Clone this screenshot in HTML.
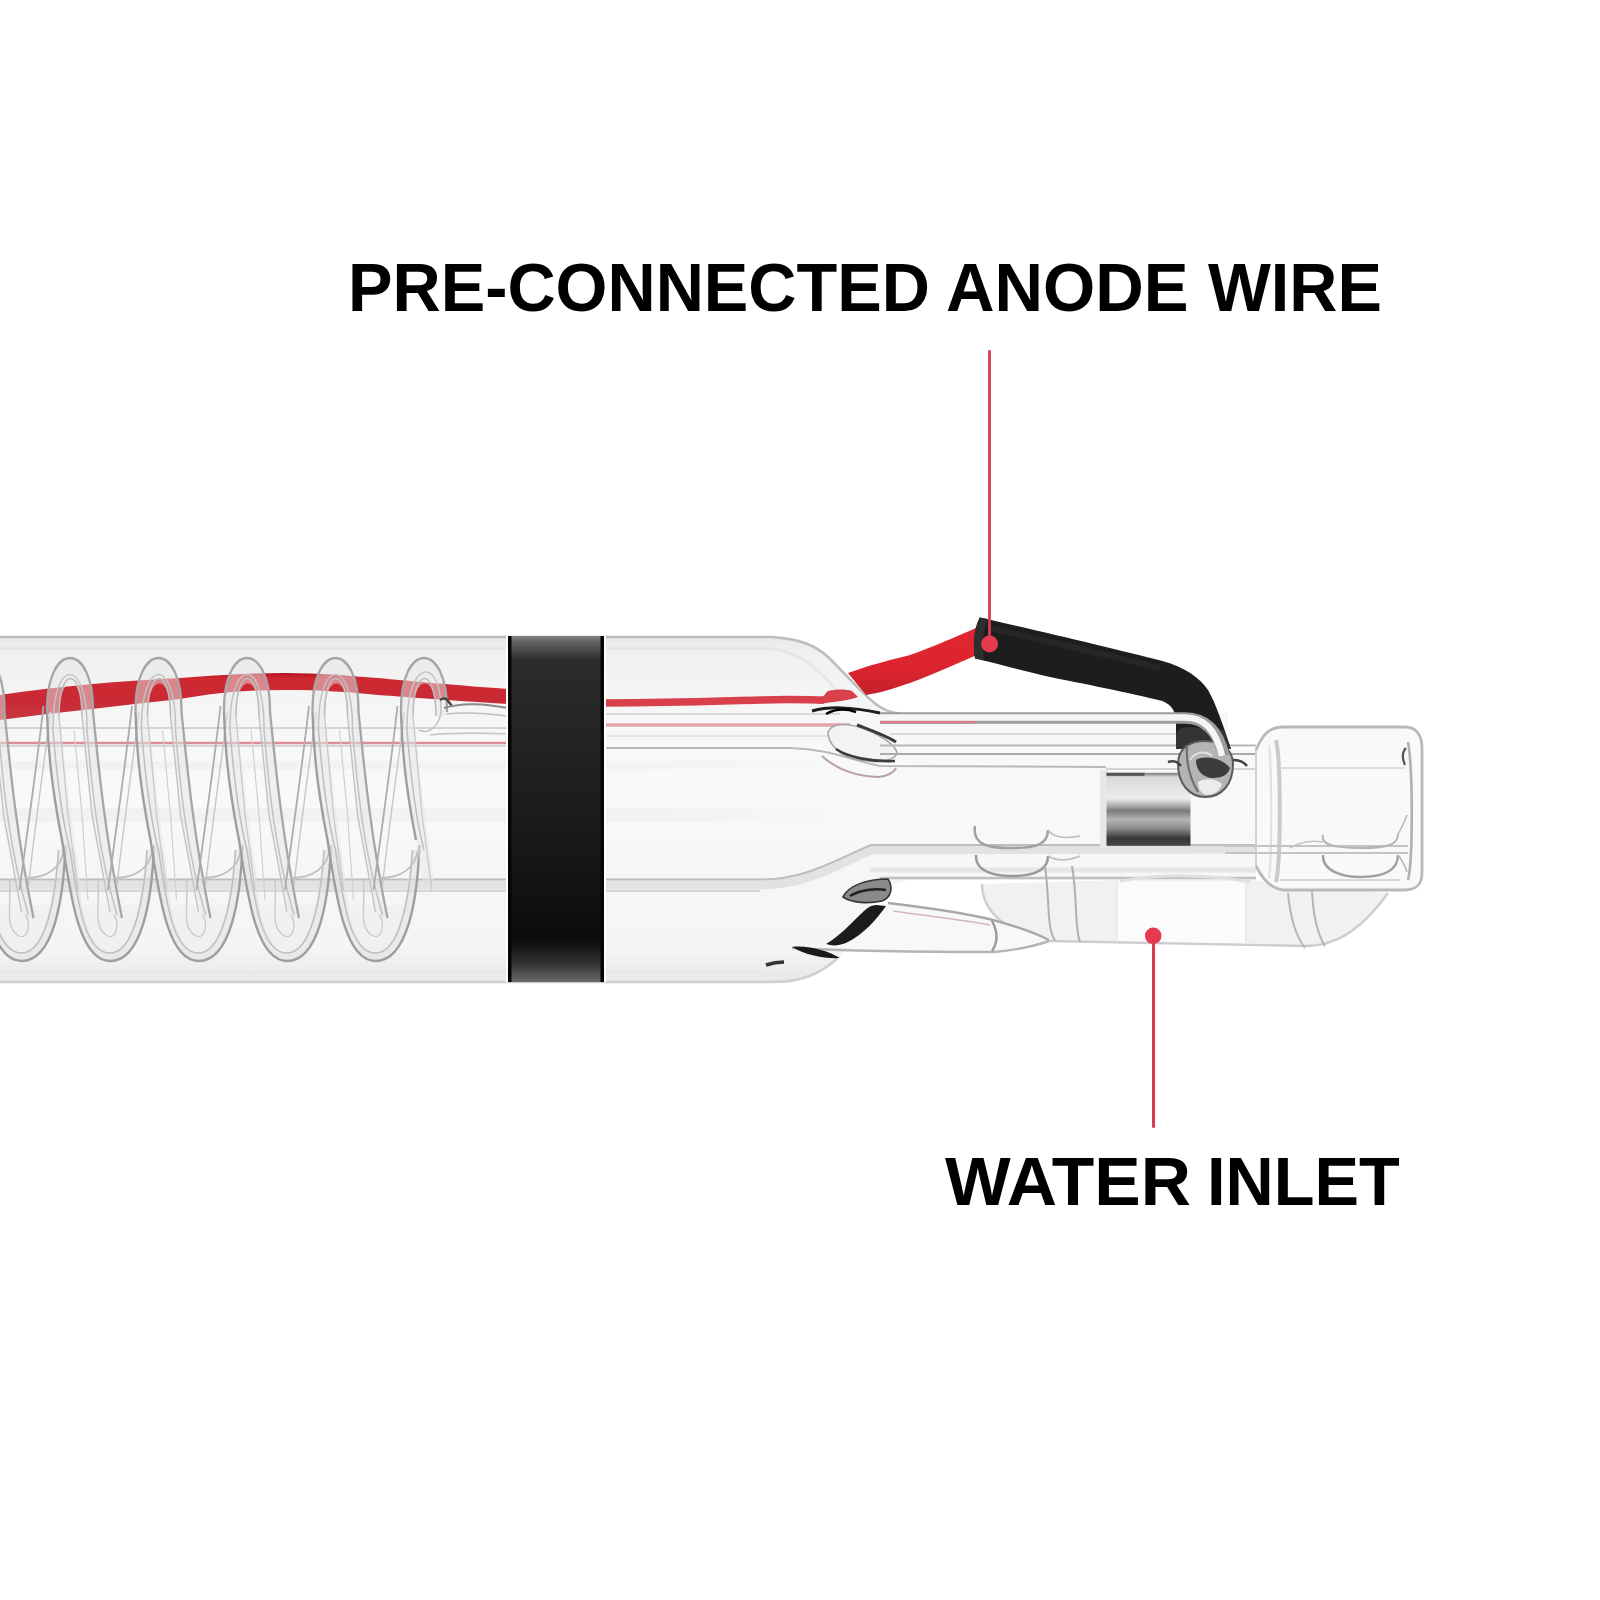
<!DOCTYPE html>
<html><head><meta charset="utf-8">
<style>
html,body{margin:0;padding:0;background:#fff;}
body{width:1600px;height:1600px;position:relative;overflow:hidden;}
.w{position:absolute;font-family:"Liberation Sans",sans-serif;font-weight:bold;color:#000;white-space:nowrap;line-height:1;font-size:69px;transform-origin:0 0;}
svg{position:absolute;left:0;top:0;}
</style></head><body>
<svg width="1600" height="1600" viewBox="0 0 1600 1600">
<defs>
<linearGradient id="band" x1="0" y1="0" x2="0" y2="1">
<stop offset="0" stop-color="#808080"/><stop offset="0.02" stop-color="#606060"/><stop offset="0.07" stop-color="#2c2c2c"/>
<stop offset="0.5" stop-color="#1c1c1c"/><stop offset="0.88" stop-color="#0c0c0c"/>
<stop offset="0.95" stop-color="#353535"/><stop offset="1" stop-color="#6a6a6a"/>
</linearGradient>
<linearGradient id="metal" x1="0" y1="0" x2="0" y2="1">
<stop offset="0" stop-color="#7a7a7a"/><stop offset="0.06" stop-color="#d8d8d8"/>
<stop offset="0.35" stop-color="#ededed"/><stop offset="0.46" stop-color="#a8a8a8"/>
<stop offset="0.52" stop-color="#7a7a7a"/><stop offset="0.64" stop-color="#b4b4b4"/>
<stop offset="0.76" stop-color="#8c8c8c"/><stop offset="0.9" stop-color="#363636"/>
<stop offset="1" stop-color="#484848"/>
</linearGradient>
<linearGradient id="tubefill" x1="0" y1="0" x2="0" y2="1">
<stop offset="0" stop-color="#e8e8e8"/><stop offset="0.04" stop-color="#f0f0f0"/>
<stop offset="0.14" stop-color="#f4f4f4"/><stop offset="0.32" stop-color="#f8f8f8"/>
<stop offset="0.5" stop-color="#f9f9f9"/><stop offset="0.7" stop-color="#f6f6f6"/>
<stop offset="0.9" stop-color="#f5f5f5"/><stop offset="1" stop-color="#e8e8e8"/>
</linearGradient>
<linearGradient id="sleeve" x1="0" y1="0" x2="0" y2="1">
<stop offset="0" stop-color="#111"/><stop offset="0.5" stop-color="#222"/><stop offset="1" stop-color="#151515"/>
</linearGradient>
<linearGradient id="redc" x1="0" y1="0" x2="0" y2="1"><stop offset="0" stop-color="#b3141e"/><stop offset="0.12" stop-color="#d02832"/><stop offset="0.6" stop-color="#c92a34"/><stop offset="1" stop-color="#c8383f"/></linearGradient>
<linearGradient id="redw" x1="0" y1="0" x2="0" y2="1">
<stop offset="0" stop-color="#e2262e"/><stop offset="0.6" stop-color="#dc2430"/><stop offset="1" stop-color="#c4202a"/>
</linearGradient>
</defs>

<!-- main tube body -->
<path d="M0,637 L772,637 C800,639 815,645 828,657 C845,673 860,692 877,705 C884,710 890,713 900,713.5 L1228,713 L1228,750 L1256,750 L1256,880 L910,880 C880,885 868,910 855,935 C840,962 815,982 772,982 L0,982 Z" fill="url(#tubefill)"/>
<path d="M0,637 L772,637 C800,639 815,645 828,657 C845,673 860,692 877,705 C884,710 890,713 900,713.5" fill="none" stroke="#bdbdbd" stroke-width="2.6"/>
<path d="M0,648 L765,648 C800,650 820,670 840,695" fill="none" stroke="#e6e6e6" stroke-width="3"/>
<path d="M0,982 L772,982 C805,982 822,972 838,958" fill="none" stroke="#cfcfcf" stroke-width="2.5"/>
<path d="M0,972 L765,972" stroke="#e8e8e8" stroke-width="3"/>
<!-- inner discharge tube lines -->
<path d="M0,728 L508,728" stroke="#d4d4d4" stroke-width="2"/>
<path d="M0,746 L508,746" stroke="#d6d6d6" stroke-width="2"/>
<path d="M604,714 L840,714" stroke="#cfcfcf" stroke-width="1.6"/>
<path d="M604,736 L840,736" stroke="#eadadc" stroke-width="1.5"/>
<path d="M604,748 L790,748 C830,749 850,760 880,766 L1106,767" fill="none" stroke="#b9b9b9" stroke-width="2"/>
<linearGradient id="fadeR" x1="0" y1="0" x2="1" y2="0"><stop offset="0" stop-color="#f1f1f1"/><stop offset="0.8" stop-color="#f3f3f3"/><stop offset="1" stop-color="#f3f3f3" stop-opacity="0"/></linearGradient>
<rect x="0" y="761" width="840" height="8" fill="url(#fadeR)"/>
<rect x="0" y="808" width="860" height="14" fill="url(#fadeR)"/>
<path d="M0,885 L760,885 C805,885 835,866 871,850 L1256,849" fill="none" stroke="#e2e2e2" stroke-width="9"/>
<path d="M0,879.5 L760,879.5 C805,880 835,860 871,845 L1256,845" fill="none" stroke="#bdbdbd" stroke-width="2"/>
<path d="M0,891 L760,891" stroke="#cbcbcb" stroke-width="1.6"/>

<!-- red wire over coil -->
<path d="M0,695 C60,686 120,681 180,678 C220,675 250,673 285,673 C320,673 350,676 378,678 C410,681 440,684 508,689 L508,704 C440,700 410,697 378,695 C350,692 320,690 285,690 C250,690 220,692 180,699 C120,706 60,712 0,720 Z" fill="url(#redc)"/>
<path d="M0,743 L508,743" stroke="#dc8c96" stroke-width="2.6"/>
<path d="M604,703 C680,703 720,701 760,700 C790,699 810,700 824,700" fill="none" stroke="#d8404c" stroke-width="7.5"/>
<path d="M604,725 L850,725" stroke="#e4a4ac" stroke-width="3.5"/>
<path d="M-41.5,712 C-42.5,642 5.5,642 4.5,712 L14.5,815 L27.5,881 L33.5,918 L25.5,918 L15.5,881 L2.5,815 L-6.5,712 C-6.5,674 -28.5,674 -29.5,712 L-17.5,815 L-8.5,881 L-19.5,881 L-31.5,815 Z" fill="#e6e6e6" opacity="0.5"/>
<path d="M-23.5,845 C-16.5,900 -6.5,961 21.5,961 C51.5,961 63.5,905 65.5,850 L57.5,850 C53.5,900 43.5,953 21.5,953 C1.5,953 -8.5,905 -13.5,850 Z" fill="#e0e0e0" opacity="0.55"/>
<path d="M-4.5,905 C1.5,940 9.5,953 21.5,953 C36.5,953 45.5,935 49.5,905 Z" fill="#ececec" opacity="0.45"/>
<path d="M-41.5,712 C-40.5,760 -34.5,800 -26.5,840 C-18.5,890 -10.5,961 21.5,961 C53.5,961 63.5,900 65.5,845" fill="none" stroke="#9e9e9e" stroke-width="2.4"/>
<path d="M-41.5,712 C-42.5,640 5.5,640 4.5,712 C9.5,760 15.5,830 33.5,918" fill="none" stroke="#a6a6a6" stroke-width="2.3"/>
<path d="M-35.5,730 C-36.5,656 -0.5,656 -1.5,730 C3.5,790 9.5,850 28.5,915" fill="none" stroke="#c2c2c2" stroke-width="1.5"/>
<path d="M-35.5,730 C-31.5,780 -26.5,820 -18.5,850 C-10.5,905 -3.5,953 21.5,953 C45.5,953 55.5,900 58.5,850" fill="none" stroke="#bebebe" stroke-width="1.5"/>
<path d="M-29.5,716 C-29.5,666 -6.5,666 -6.5,716" fill="none" stroke="#bcbcbc" stroke-width="1.6"/>
<path d="M-29.5,716 L-20.5,815 L-10.5,890" fill="none" stroke="#c8c8c8" stroke-width="1.3"/>
<path d="M-6.5,716 L3.5,815 L21.5,912" fill="none" stroke="#c0c0c0" stroke-width="1.3"/>
<path d="M-14.5,730 L-6.5,815 L-0.5,900" fill="none" stroke="#d0d0d0" stroke-width="1.2"/>
<path d="M19.5,890 C27.5,830 37.5,760 43.5,706" fill="none" stroke="#acacac" stroke-width="1.8"/>
<path d="M28.5,885 C34.5,830 44.5,760 50.5,712" fill="none" stroke="#c6c6c6" stroke-width="1.4"/>
<path d="M9.5,880 C11.5,910 4.5,925 17.5,935 C27.5,942 31.5,925 25.5,915" fill="none" stroke="#cacaca" stroke-width="1.4"/>
<path d="M25.5,878 C47.5,878 61.5,868 64.5,848" fill="none" stroke="#c0c0c0" stroke-width="1.8"/><path d="M47.0,712 C46.0,642 94.0,642 93.0,712 L103.0,815 L116.0,881 L122.0,918 L114.0,918 L104.0,881 L91.0,815 L82.0,712 C82.0,674 60.0,674 59.0,712 L71.0,815 L80.0,881 L69.0,881 L57.0,815 Z" fill="#e6e6e6" opacity="0.5"/>
<path d="M65.0,845 C72.0,900 82.0,961 110.0,961 C140.0,961 152.0,905 154.0,850 L146.0,850 C142.0,900 132.0,953 110.0,953 C90.0,953 80.0,905 75.0,850 Z" fill="#e0e0e0" opacity="0.55"/>
<path d="M84.0,905 C90.0,940 98.0,953 110.0,953 C125.0,953 134.0,935 138.0,905 Z" fill="#ececec" opacity="0.45"/>
<path d="M47.0,712 C48.0,760 54.0,800 62.0,840 C70.0,890 78.0,961 110.0,961 C142.0,961 152.0,900 154.0,845" fill="none" stroke="#9e9e9e" stroke-width="2.4"/>
<path d="M47.0,712 C46.0,640 94.0,640 93.0,712 C98.0,760 104.0,830 122.0,918" fill="none" stroke="#a6a6a6" stroke-width="2.3"/>
<path d="M53.0,730 C52.0,656 88.0,656 87.0,730 C92.0,790 98.0,850 117.0,915" fill="none" stroke="#c2c2c2" stroke-width="1.5"/>
<path d="M53.0,730 C57.0,780 62.0,820 70.0,850 C78.0,905 85.0,953 110.0,953 C134.0,953 144.0,900 147.0,850" fill="none" stroke="#bebebe" stroke-width="1.5"/>
<path d="M59.0,716 C59.0,666 82.0,666 82.0,716" fill="none" stroke="#bcbcbc" stroke-width="1.6"/>
<path d="M59.0,716 L68.0,815 L78.0,890" fill="none" stroke="#c8c8c8" stroke-width="1.3"/>
<path d="M82.0,716 L92.0,815 L110.0,912" fill="none" stroke="#c0c0c0" stroke-width="1.3"/>
<path d="M74.0,730 L82.0,815 L88.0,900" fill="none" stroke="#d0d0d0" stroke-width="1.2"/>
<path d="M108.0,890 C116.0,830 126.0,760 132.0,706" fill="none" stroke="#acacac" stroke-width="1.8"/>
<path d="M117.0,885 C123.0,830 133.0,760 139.0,712" fill="none" stroke="#c6c6c6" stroke-width="1.4"/>
<path d="M98.0,880 C100.0,910 93.0,925 106.0,935 C116.0,942 120.0,925 114.0,915" fill="none" stroke="#cacaca" stroke-width="1.4"/>
<path d="M114.0,878 C136.0,878 150.0,868 153.0,848" fill="none" stroke="#c0c0c0" stroke-width="1.8"/><path d="M135.5,712 C134.5,642 182.5,642 181.5,712 L191.5,815 L204.5,881 L210.5,918 L202.5,918 L192.5,881 L179.5,815 L170.5,712 C170.5,674 148.5,674 147.5,712 L159.5,815 L168.5,881 L157.5,881 L145.5,815 Z" fill="#e6e6e6" opacity="0.5"/>
<path d="M153.5,845 C160.5,900 170.5,961 198.5,961 C228.5,961 240.5,905 242.5,850 L234.5,850 C230.5,900 220.5,953 198.5,953 C178.5,953 168.5,905 163.5,850 Z" fill="#e0e0e0" opacity="0.55"/>
<path d="M172.5,905 C178.5,940 186.5,953 198.5,953 C213.5,953 222.5,935 226.5,905 Z" fill="#ececec" opacity="0.45"/>
<path d="M135.5,712 C136.5,760 142.5,800 150.5,840 C158.5,890 166.5,961 198.5,961 C230.5,961 240.5,900 242.5,845" fill="none" stroke="#9e9e9e" stroke-width="2.4"/>
<path d="M135.5,712 C134.5,640 182.5,640 181.5,712 C186.5,760 192.5,830 210.5,918" fill="none" stroke="#a6a6a6" stroke-width="2.3"/>
<path d="M141.5,730 C140.5,656 176.5,656 175.5,730 C180.5,790 186.5,850 205.5,915" fill="none" stroke="#c2c2c2" stroke-width="1.5"/>
<path d="M141.5,730 C145.5,780 150.5,820 158.5,850 C166.5,905 173.5,953 198.5,953 C222.5,953 232.5,900 235.5,850" fill="none" stroke="#bebebe" stroke-width="1.5"/>
<path d="M147.5,716 C147.5,666 170.5,666 170.5,716" fill="none" stroke="#bcbcbc" stroke-width="1.6"/>
<path d="M147.5,716 L156.5,815 L166.5,890" fill="none" stroke="#c8c8c8" stroke-width="1.3"/>
<path d="M170.5,716 L180.5,815 L198.5,912" fill="none" stroke="#c0c0c0" stroke-width="1.3"/>
<path d="M162.5,730 L170.5,815 L176.5,900" fill="none" stroke="#d0d0d0" stroke-width="1.2"/>
<path d="M196.5,890 C204.5,830 214.5,760 220.5,706" fill="none" stroke="#acacac" stroke-width="1.8"/>
<path d="M205.5,885 C211.5,830 221.5,760 227.5,712" fill="none" stroke="#c6c6c6" stroke-width="1.4"/>
<path d="M186.5,880 C188.5,910 181.5,925 194.5,935 C204.5,942 208.5,925 202.5,915" fill="none" stroke="#cacaca" stroke-width="1.4"/>
<path d="M202.5,878 C224.5,878 238.5,868 241.5,848" fill="none" stroke="#c0c0c0" stroke-width="1.8"/><path d="M224.0,712 C223.0,642 271.0,642 270.0,712 L280.0,815 L293.0,881 L299.0,918 L291.0,918 L281.0,881 L268.0,815 L259.0,712 C259.0,674 237.0,674 236.0,712 L248.0,815 L257.0,881 L246.0,881 L234.0,815 Z" fill="#e6e6e6" opacity="0.5"/>
<path d="M242.0,845 C249.0,900 259.0,961 287.0,961 C317.0,961 329.0,905 331.0,850 L323.0,850 C319.0,900 309.0,953 287.0,953 C267.0,953 257.0,905 252.0,850 Z" fill="#e0e0e0" opacity="0.55"/>
<path d="M261.0,905 C267.0,940 275.0,953 287.0,953 C302.0,953 311.0,935 315.0,905 Z" fill="#ececec" opacity="0.45"/>
<path d="M224.0,712 C225.0,760 231.0,800 239.0,840 C247.0,890 255.0,961 287.0,961 C319.0,961 329.0,900 331.0,845" fill="none" stroke="#9e9e9e" stroke-width="2.4"/>
<path d="M224.0,712 C223.0,640 271.0,640 270.0,712 C275.0,760 281.0,830 299.0,918" fill="none" stroke="#a6a6a6" stroke-width="2.3"/>
<path d="M230.0,730 C229.0,656 265.0,656 264.0,730 C269.0,790 275.0,850 294.0,915" fill="none" stroke="#c2c2c2" stroke-width="1.5"/>
<path d="M230.0,730 C234.0,780 239.0,820 247.0,850 C255.0,905 262.0,953 287.0,953 C311.0,953 321.0,900 324.0,850" fill="none" stroke="#bebebe" stroke-width="1.5"/>
<path d="M236.0,716 C236.0,666 259.0,666 259.0,716" fill="none" stroke="#bcbcbc" stroke-width="1.6"/>
<path d="M236.0,716 L245.0,815 L255.0,890" fill="none" stroke="#c8c8c8" stroke-width="1.3"/>
<path d="M259.0,716 L269.0,815 L287.0,912" fill="none" stroke="#c0c0c0" stroke-width="1.3"/>
<path d="M251.0,730 L259.0,815 L265.0,900" fill="none" stroke="#d0d0d0" stroke-width="1.2"/>
<path d="M285.0,890 C293.0,830 303.0,760 309.0,706" fill="none" stroke="#acacac" stroke-width="1.8"/>
<path d="M294.0,885 C300.0,830 310.0,760 316.0,712" fill="none" stroke="#c6c6c6" stroke-width="1.4"/>
<path d="M275.0,880 C277.0,910 270.0,925 283.0,935 C293.0,942 297.0,925 291.0,915" fill="none" stroke="#cacaca" stroke-width="1.4"/>
<path d="M291.0,878 C313.0,878 327.0,868 330.0,848" fill="none" stroke="#c0c0c0" stroke-width="1.8"/><path d="M312.5,712 C311.5,642 359.5,642 358.5,712 L368.5,815 L381.5,881 L387.5,918 L379.5,918 L369.5,881 L356.5,815 L347.5,712 C347.5,674 325.5,674 324.5,712 L336.5,815 L345.5,881 L334.5,881 L322.5,815 Z" fill="#e6e6e6" opacity="0.5"/>
<path d="M330.5,845 C337.5,900 347.5,961 375.5,961 C405.5,961 417.5,905 419.5,850 L411.5,850 C407.5,900 397.5,953 375.5,953 C355.5,953 345.5,905 340.5,850 Z" fill="#e0e0e0" opacity="0.55"/>
<path d="M349.5,905 C355.5,940 363.5,953 375.5,953 C390.5,953 399.5,935 403.5,905 Z" fill="#ececec" opacity="0.45"/>
<path d="M312.5,712 C313.5,760 319.5,800 327.5,840 C335.5,890 343.5,961 375.5,961 C407.5,961 417.5,900 419.5,845" fill="none" stroke="#9e9e9e" stroke-width="2.4"/>
<path d="M312.5,712 C311.5,640 359.5,640 358.5,712 C363.5,760 369.5,830 387.5,918" fill="none" stroke="#a6a6a6" stroke-width="2.3"/>
<path d="M318.5,730 C317.5,656 353.5,656 352.5,730 C357.5,790 363.5,850 382.5,915" fill="none" stroke="#c2c2c2" stroke-width="1.5"/>
<path d="M318.5,730 C322.5,780 327.5,820 335.5,850 C343.5,905 350.5,953 375.5,953 C399.5,953 409.5,900 412.5,850" fill="none" stroke="#bebebe" stroke-width="1.5"/>
<path d="M324.5,716 C324.5,666 347.5,666 347.5,716" fill="none" stroke="#bcbcbc" stroke-width="1.6"/>
<path d="M324.5,716 L333.5,815 L343.5,890" fill="none" stroke="#c8c8c8" stroke-width="1.3"/>
<path d="M347.5,716 L357.5,815 L375.5,912" fill="none" stroke="#c0c0c0" stroke-width="1.3"/>
<path d="M339.5,730 L347.5,815 L353.5,900" fill="none" stroke="#d0d0d0" stroke-width="1.2"/>
<path d="M373.5,890 C381.5,830 391.5,760 397.5,706" fill="none" stroke="#acacac" stroke-width="1.8"/>
<path d="M382.5,885 C388.5,830 398.5,760 404.5,712" fill="none" stroke="#c6c6c6" stroke-width="1.4"/>
<path d="M363.5,880 C365.5,910 358.5,925 371.5,935 C381.5,942 385.5,925 379.5,915" fill="none" stroke="#cacaca" stroke-width="1.4"/>
<path d="M379.5,878 C401.5,878 415.5,868 418.5,848" fill="none" stroke="#c0c0c0" stroke-width="1.8"/><path d="M401.0,712 C400.0,642 448.0,642 447.0,712 C444.0,720 436.0,716 436.0,712 C436.0,674 414.0,674 413.0,712 L425.0,815 L434.0,881 L423.0,881 L411.0,815 Z" fill="#e6e6e6" opacity="0.5"/>
<path d="M401.0,712 C402.0,760 408.0,800 416.0,840" fill="none" stroke="#9e9e9e" stroke-width="2.4"/>
<path d="M401.0,712 C400.0,640 448.0,640 447.0,712" fill="none" stroke="#a6a6a6" stroke-width="2.3"/>
<path d="M407.0,730 C406.0,656 442.0,656 441.0,712 C439.0,726 429.0,735 419.0,730" fill="none" stroke="#c2c2c2" stroke-width="1.5"/>
<path d="M407.0,730 C411.0,780 416.0,820 424.0,850" fill="none" stroke="#bebebe" stroke-width="1.5"/>
<path d="M413.0,716 C413.0,666 436.0,666 436.0,716" fill="none" stroke="#bcbcbc" stroke-width="1.6"/>
<path d="M413.0,716 L422.0,815 L432.0,890" fill="none" stroke="#c8c8c8" stroke-width="1.3"/>
<path d="M440.0,700 C446.0,696 447.0,700 452.0,706" fill="none" stroke="#444" stroke-width="2.5"/>
<path d="M444.0,708 C464.0,702 484.0,704 508.0,708" fill="none" stroke="#8a8a8a" stroke-width="2"/>
<path d="M446.0,714 C464.0,712 484.0,713 508.0,716" fill="none" stroke="#c0c0c0" stroke-width="1.6"/>
<path d="M430.0,735 C454.0,732 484.0,733 508.0,734" fill="none" stroke="#c8c8c8" stroke-width="1.6"/>
<rect x="506" y="636" width="2" height="346" fill="#fff"/>
<rect x="604" y="636" width="2" height="346" fill="#fff"/>
<rect x="508" y="636" width="96" height="346" fill="url(#band)"/>
<rect x="508" y="636" width="3.5" height="346" fill="#050505"/>
<rect x="600.5" y="636" width="3.5" height="346" fill="#050505"/>

<!-- neck knot -->
<path d="M818,704 C822,700 824,694 828,691 C836,689 846,689 852,691 L858,697 C850,700 840,701 826,703 Z" fill="#d8414c"/>
<path d="M828,732 C832,722 850,722 872,732 C888,740 897,748 897,754 C893,762 870,764 850,758 C836,752 828,742 828,732 Z" fill="#f3f3f3" stroke="#a4a4a4" stroke-width="1.6"/>
<path d="M812,711 C830,706 850,707 880,713" fill="none" stroke="#1e1e1e" stroke-width="3"/>
<path d="M826,714 C835,709 845,708 856,712" fill="none" stroke="#000" stroke-width="2.5"/>
<path d="M857,725 C870,730 885,735 896,742" fill="none" stroke="#3a3a3a" stroke-width="3"/>
<path d="M836,749 C848,757 870,762 895,761" fill="none" stroke="#3c3c3c" stroke-width="2.6"/>
<path d="M822,756 C835,768 855,776 878,777 C888,776 894,772 896,768" fill="none" stroke="#b9a0a4" stroke-width="2"/>
<!-- rod from neck to electrode -->
<path d="M880,722.5 L975,722.5" stroke="#e07a84" stroke-width="2.5"/>
<path d="M890,734 L1180,734" stroke="#d2d2d2" stroke-width="1.6"/>
<path d="M880,745.5 L1256,745.5" stroke="#b8b8b8" stroke-width="1.8"/>
<path d="M880,754 L1256,754" stroke="#aaaaaa" stroke-width="2"/>
<path d="M1106,769 L1256,769" stroke="#c9c9c9" stroke-width="1.6"/>
<path d="M880,878 L1256,878" stroke="#c0c0c0" stroke-width="2.4"/>
<path d="M870,870 L1256,870" stroke="#e6e6e6" stroke-width="5"/>

<rect x="1100" y="770" width="8" height="78" fill="#e8e8e8"/>
<rect x="1106.5" y="772.8" width="84" height="73" fill="url(#metal)"/>
<rect x="1106.5" y="772.8" width="38" height="3" fill="#555"/>

<path d="M975,826 C972,846 990,848 1012,848 C1035,848 1048,845 1048,830" fill="none" stroke="#a2a2a2" stroke-width="2.5"/>
<path d="M976,855 C975,872 995,876 1012,876 C1035,876 1048,870 1048,856" fill="none" stroke="#9a9a9a" stroke-width="2.5"/>
<path d="M1048,830 C1055,840 1070,838 1080,836 M1048,856 C1058,862 1070,860 1080,856" fill="none" stroke="#bdbdbd" stroke-width="1.6"/>

<!-- water inlet tube -->
<path d="M982,884 C982,912 1008,934 1050,941 L1305,946 C1340,946 1365,925 1388,893 L1300,886 L1250,880 L1120,880 Z" fill="#f1f1f1"/>
<rect x="1117" y="881" width="129" height="62" fill="#fbfbfb"/>
<path d="M982,884 C982,912 1008,934 1050,941 L1305,946 C1340,946 1365,925 1388,893" fill="none" stroke="#cdcdcd" stroke-width="2.4"/>
<path d="M1120,881 C1160,874 1210,874 1250,882" fill="none" stroke="#e0e0e0" stroke-width="3"/>
<path d="M1045,866 C1050,900 1046,925 1055,941 M1072,866 C1078,900 1074,925 1080,942" fill="none" stroke="#b0b0b0" stroke-width="2"/>
<path d="M1288,893 C1290,915 1295,935 1305,948 M1312,890 C1313,915 1318,935 1325,946" fill="none" stroke="#b4b4b4" stroke-width="2"/>
<path d="M1246,882 L1246,943 M1117,881 L1117,942" stroke="#e8e8e8" stroke-width="1.5"/>

<!-- bottom prong -->
<path d="M792,948 C820,944 840,942 860,930 C870,920 880,908 888,903 L993,920 L1049,940 L994,952 L860,951 Z" fill="#f8f8f8"/>
<path d="M888,903 C930,908 965,913 993,920 C1015,926 1035,933 1049,940" fill="none" stroke="#a8a8a8" stroke-width="2.4"/>
<path d="M893,911 C935,917 965,920 990,925" fill="none" stroke="#d8b4b8" stroke-width="1.5"/>
<path d="M792,948 C850,951 930,952 994,952 C1015,950 1035,946 1049,941" fill="none" stroke="#b4b4b4" stroke-width="2.4"/>
<path d="M992,921 C998,932 998,942 992,951" fill="none" stroke="#9a9a9a" stroke-width="2.4"/>
<path d="M826,944 C840,936 852,922 864,911 C868,907 872,905 876,905 L886,906 C876,920 864,934 846,943 C838,946 832,946 826,944 Z" fill="#1c1c1c"/>
<path d="M843,897 C848,886 866,879 888,879 C893,887 892,897 882,901 C868,904 852,903 843,897 Z" fill="#8a8a8a" stroke="#333" stroke-width="1.6"/>
<path d="M850,896 C860,890 875,888 886,890" fill="none" stroke="#222" stroke-width="2.5"/>
<path d="M792,947 C808,945 828,951 840,958 C825,959 805,955 792,947 Z" fill="#1a1a1a"/>
<path d="M766,965 C772,963 778,962 784,962" fill="none" stroke="#333" stroke-width="3.5"/>

<!-- red wire outside -->
<path d="M848,673 C870,665 890,660 910,655 C935,646 955,637 976,628 L977,655 C955,664 935,674 910,683 C895,688 880,693 866,695 Z" fill="url(#redw)"/>
<!-- black sleeve -->
<path d="M979.7,617.4 C1040,631 1120,650 1162.5,661 C1185,667 1200,678 1208,690 C1216,704 1222,722 1231,749 L1176,749 L1176,722 C1176,712 1172,705 1162.5,701 C1130,693 1080,683 1050,677 C1020,670 995,663 975,658.5 C973,645 974,630 979.7,617.4 Z" fill="#1d1d1d"/>
<path d="M979.7,617.4 C973,630 973,645 975,658.5 L984,660 C982,645 983,630 988,619 Z" fill="#2e2e2e"/>
<path d="M990,628 C1050,642 1120,658 1160,668" fill="none" stroke="#262626" stroke-width="6"/>
<!-- electrode blob -->
<path d="M1176,749 L1176,735 C1178,728 1182,727 1190,727 L1224,730 L1231,749 Z" fill="#333"/>
<path d="M1178,764 C1178,748 1190,741 1205,741 C1222,741 1233,750 1233,764 C1233,784 1222,797 1205,797 C1190,797 1178,784 1178,764 Z" fill="#b4b4b4" stroke="#5a5a5a" stroke-width="2"/>
<path d="M1196,760 C1205,755 1222,758 1230,768 C1228,775 1222,778 1212,778 C1202,777 1196,770 1196,760 Z" fill="#3c3c3c"/>
<path d="M1198,782 C1204,778 1216,778 1222,784 C1220,792 1212,795 1206,795 C1200,793 1198,788 1198,782 Z" fill="#ececec"/>
<path d="M1187,745 C1186,760 1188,775 1198,792" fill="none" stroke="#707070" stroke-width="2.2"/>
<path d="M1190,760 C1195,752 1205,750 1212,756" fill="none" stroke="#e0e0e0" stroke-width="2"/>
<path d="M1168,762 C1174,760 1178,762 1181,766 M1233,760 C1240,760 1244,762 1247,766" fill="none" stroke="#444" stroke-width="2.5"/>
<!-- glass rod -->
<path d="M880,718 L1185,718 C1205,718 1218,730 1224,756" fill="none" stroke="#9c9c9c" stroke-width="11.5"/>
<path d="M880,717.5 L1185,717.5 C1204,717.5 1216,729 1222,756" fill="none" stroke="#f6f6f6" stroke-width="6.5"/>
<path d="M880,722 L975,722" stroke="#e07a84" stroke-width="2"/>

<!-- end cap -->
<path d="M1256,750 C1262,736 1268,727 1283,727 L1405,727 C1416,727 1422,735 1422,748 L1422,873 C1422,884 1416,890 1405,890 L1285,890 C1272,890 1263,880 1256,866 Z" fill="#f9f9f9"/>
<path d="M1256,750 C1262,736 1268,727 1283,727 L1405,727 C1416,727 1422,735 1422,748 L1422,873 C1422,884 1416,890 1405,890 L1285,890 C1272,890 1263,880 1256,866" fill="none" stroke="#b9b9b9" stroke-width="2.8"/>
<path d="M1256,750 L1256,866" stroke="#d0d0d0" stroke-width="2"/>
<path d="M1276,740 C1281,760 1281,860 1276,882" fill="none" stroke="#cacaca" stroke-width="4"/>
<path d="M1269,745 C1272,770 1272,860 1269,878" fill="none" stroke="#e0e0e0" stroke-width="2"/>
<path d="M1408,742 C1413,770 1413,860 1408,880" fill="none" stroke="#b0b0b0" stroke-width="2.6"/>
<path d="M1280,768 L1405,768" stroke="#dedede" stroke-width="2"/>
<path d="M1225,846 L1408,846 M1225,853 L1408,853" stroke="#c4c4c4" stroke-width="1.8"/>
<path d="M1280,880 L1400,880" stroke="#d8d8d8" stroke-width="2"/>
<path d="M1323,835 C1320,846 1340,848 1360,848 C1385,848 1398,846 1398,834" fill="none" stroke="#b4b4b4" stroke-width="2"/>
<path d="M1323,855 C1322,872 1345,877 1360,877 C1385,877 1398,870 1398,855" fill="none" stroke="#a0a0a0" stroke-width="2.4"/>
<path d="M1398,834 C1402,828 1405,820 1407,815 M1398,855 C1402,860 1405,866 1407,872" fill="none" stroke="#b8b8b8" stroke-width="1.6"/>
<path d="M1405,765 C1402,758 1402,752 1406,748" fill="none" stroke="#555" stroke-width="2.2"/>
<path d="M1290,848 C1300,842 1310,840 1323,842" fill="none" stroke="#c4c4c4" stroke-width="1.6"/>

<rect x="988.1" y="350.2" width="2.8" height="294" fill="#da3a4e"/>
<circle cx="989.6" cy="644" r="8.5" fill="#e6394f"/>
<rect x="1152" y="936" width="3" height="191.7" fill="#da3a4e"/>
<circle cx="1153.2" cy="935.8" r="8.3" fill="#e6394f"/>
</svg>
<div class="w" style="left:347.89px;top:253px;transform:scaleX(0.9670)">PRE-CONNECTED</div>
<div class="w" style="left:945.92px;top:253px;transform:scaleX(0.9736)">ANODE</div>
<div class="w" style="left:1207.50px;top:253px;transform:scaleX(0.9647)">WIRE</div>
<div class="w" style="left:944.70px;top:1147px;transform:scaleX(1.0078)">WATER</div>
<div class="w" style="left:1207.20px;top:1147px;transform:scaleX(0.9664)">INLET</div>
</body></html>
